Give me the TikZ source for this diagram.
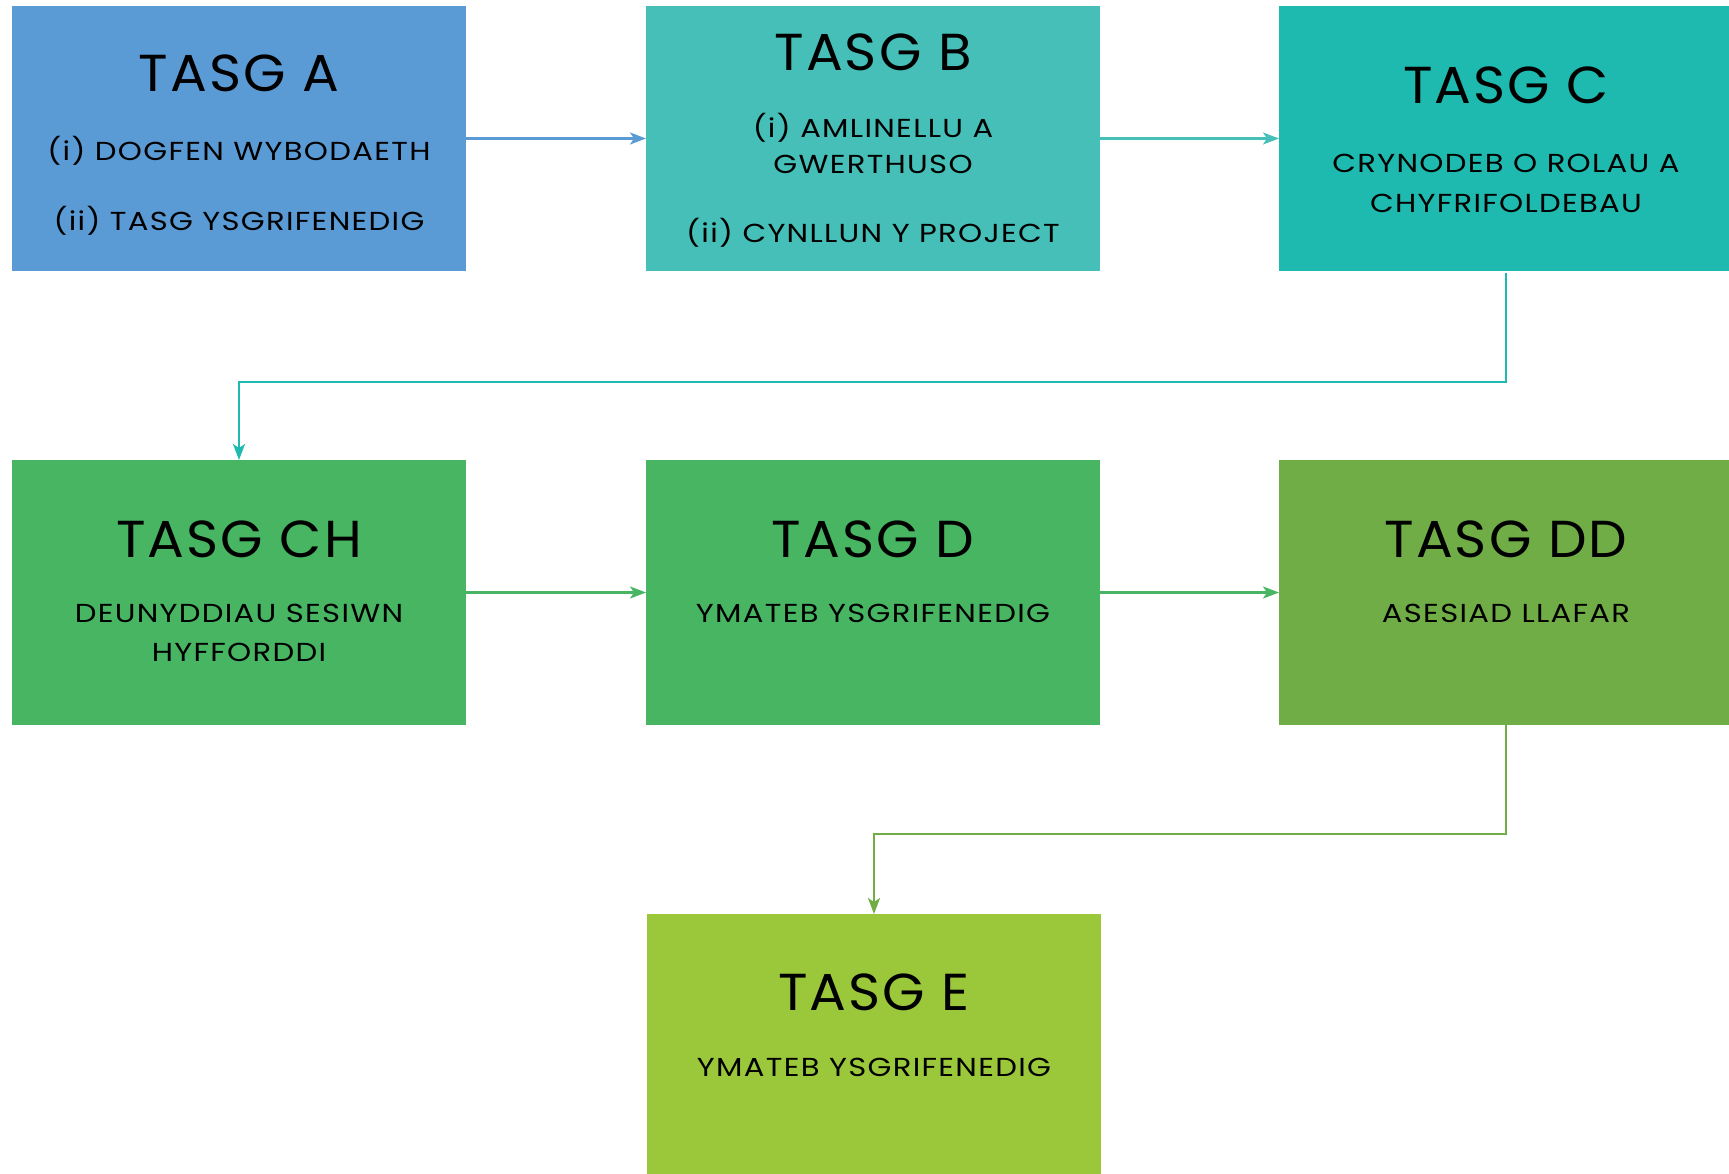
\documentclass[tikz,border=0pt]{standalone}
\usepackage{fontspec}
\setmainfont{Poppins}
\newfontfamily\ttlfont[FakeStretch=1.05,LetterSpace=4]{Poppins}
\newfontfamily\subfont[FakeStretch=1.18,LetterSpace=5]{Poppins}
\usetikzlibrary{arrows.meta}
\definecolor{cA}{HTML}{5B9BD5}
\definecolor{cB}{HTML}{45BFB8}
\definecolor{cC}{HTML}{1FBAAF}
\definecolor{cCH}{HTML}{47B562}
\definecolor{cDD}{HTML}{70AD47}
\definecolor{cE}{HTML}{9BC83A}
\tikzset{
  box/.style={anchor=north west, minimum width=454pt, minimum height=265pt, inner sep=0pt, outer sep=0pt},
  ttl/.style={font=\ttlfont\fontsize{52}{52}\selectfont, inner sep=0pt, anchor=center},
  sub/.style={font=\subfont\fontsize{26}{26}\selectfont, inner sep=0pt, anchor=center},
  conn/.style={line width=2.2pt, -{Stealth[length=16pt,width=12pt,inset=4pt]}},
}
\begin{document}
\begin{tikzpicture}[x=1pt,y=-1pt]
\useasboundingbox (0,0) rectangle (1729,1174);
% boxes
\node[box, fill=cA] (A) at (12,6) {};
\node[box, fill=cB] (B) at (646,6) {};
\node[box, fill=cC] (C) at (1279,6) {};
\node[box, fill=cCH] (CH) at (12,460) {};
\node[box, fill=cCH] (D) at (646,460) {};
\node[box, fill=cDD] (DD) at (1279,460) {};
\node[box, fill=cE, minimum height=270pt] (E) at (647,914) {};
% texts
\node[ttl] (tA) at (239,73) {TASG A};
\node[sub] (tA1) at (239,151) {(i) DOGFEN WYBODAETH};
\node[sub] (tA2) at (239,221) {(ii) TASG YSGRIFENEDIG};
\node[ttl] (tB) at (873,52) {TASG B};
\node[sub] (tB1) at (873,128) {(i) AMLINELLU A};
\node[sub] (tB2) at (873,164) {GWERTHUSO};
\node[sub] (tB3) at (873,233) {(ii) CYNLLUN Y PROJECT};
\node[ttl] (tC) at (1506,85) {TASG C};
\node[sub] (tC1) at (1506,163) {CRYNODEB O ROLAU A};
\node[sub] (tC2) at (1506,203) {CHYFRIFOLDEBAU};
\node[ttl] (tCH) at (239,539) {TASG CH};
\node[sub] (tCH1) at (239,613) {DEUNYDDIAU SESIWN};
\node[sub] (tCH2) at (239,652) {HYFFORDDI};
\node[ttl] (tD) at (873,539) {TASG D};
\node[sub] (tD1) at (873,613) {YMATEB YSGRIFENEDIG};
\node[ttl] (tDD) at (1506,539) {TASG DD};
\node[sub] (tDD1) at (1506,613) {ASESIAD LLAFAR};
\node[ttl] (tE) at (874,992) {TASG E};
\node[sub] (tE1) at (874,1067) {YMATEB YSGRIFENEDIG};
% connectors
\draw[conn, cA] (A.east) -- (B.west);
\draw[conn, cB] (B.east) -- (C.west);
\draw[conn, cC] ([yshift=-2pt]C.south) -- ([yshift=-2pt]C.south |- 0,380) -| (CH.north);
\draw[conn, cCH] (CH.east) -- (D.west);
\draw[conn, cCH] (D.east) -- (DD.west);
\draw[conn, cDD] (DD.south) -- (DD.south |- 0,834) -| (E.north);
\end{tikzpicture}
\end{document}
